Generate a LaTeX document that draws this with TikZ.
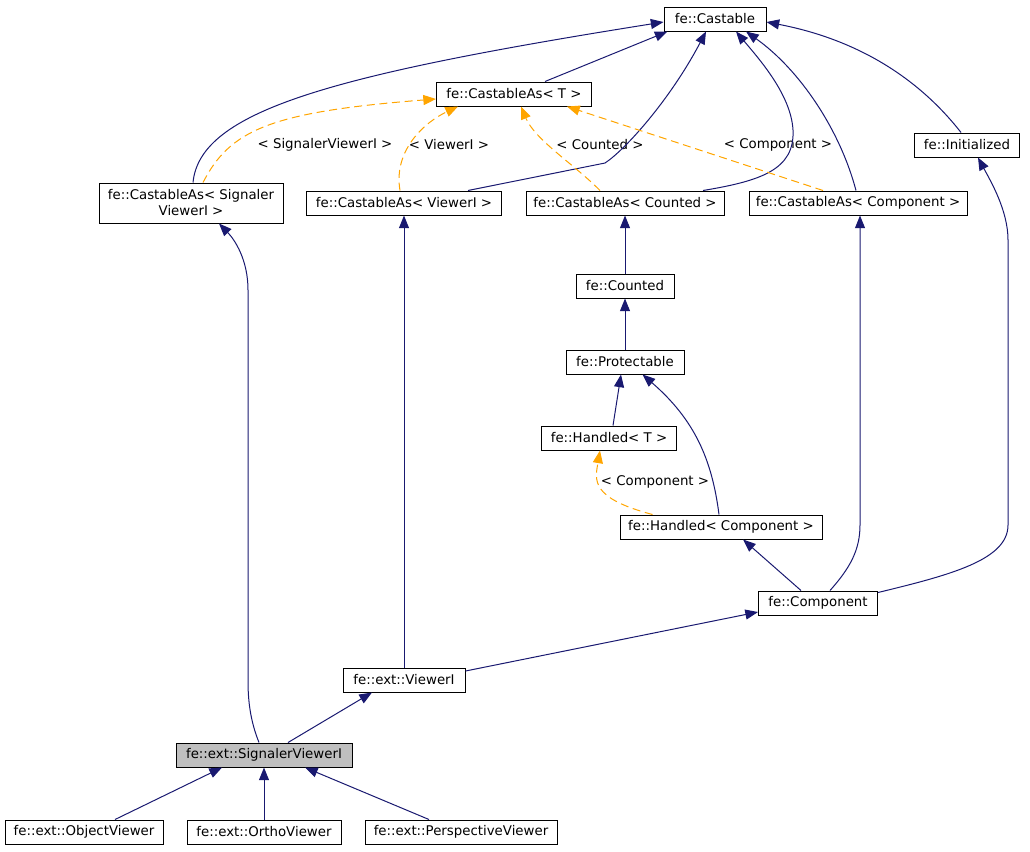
\documentclass[tikz,border=0pt]{standalone}
\usepackage{fontspec}
\setmainfont{DejaVu Sans}
\usepackage{tikz}
\usetikzlibrary{arrows.meta,positioning,calc}
\definecolor{edgeblue}{HTML}{191970}
\definecolor{tmplorange}{HTML}{FFA500}
\begin{document}
\begin{tikzpicture}[x=0.75pt,y=-0.75pt,
	cls/.style={draw=black,fill=white,line width=0.75pt,inner sep=0pt,minimum height=18pt,minimum width=#1*0.75pt,font=\fontsize{10}{12}\selectfont},
	inh/.style={draw=edgeblue,line width=0.75pt,-{Triangle[length=9.5pt,width=7.5pt]}},
	tmpl/.style={draw=tmplorange,line width=0.75pt,dash pattern=on 6pt off 3.5pt,-{Triangle[length=9.5pt,width=7.5pt]}},
	lbl/.style={inner sep=0pt,font=\fontsize{10}{12}\selectfont}]
	\useasboundingbox (0,0) rectangle (1030,851);
	% classes
	\node[cls=102] (castable) at (715,19) {fe::Castable};
	\node[cls=155] (castT) at (514,94) {fe::CastableAs< T >};
	\node[cls=105] (init) at (967,145) {fe::Initialized};
	\node[cls=184,minimum height=30pt,align=center] (castSV) at (191,203) {fe::CastableAs< Signaler\\ViewerI >};
	\node[cls=195] (castV) at (404,203) {fe::CastableAs< ViewerI >};
	\node[cls=198] (castCnt) at (625,203) {fe::CastableAs< Counted >};
	\node[cls=218] (castComp) at (858,203) {fe::CastableAs< Component >};
	\node[cls=98] (counted) at (625,286) {fe::Counted};
	\node[cls=118] (prot) at (625,362) {fe::Protectable};
	\node[cls=135] (handT) at (609,438) {fe::Handled< T >};
	\node[cls=202] (handC) at (721,527) {fe::Handled< Component >};
	\node[cls=119] (comp) at (818,603) {fe::Component};
	\node[cls=122] (viewer) at (404,680) {fe::ext::ViewerI};
	\node[cls=176,fill=black!25] (sviewer) at (264,755) {fe::ext::SignalerViewerI};
	\node[cls=158] (objv) at (84,832) {fe::ext::ObjectViewer};
	\node[cls=154] (orthov) at (264,832) {fe::ext::OrthoViewer};
	\node[cls=192] (perspv) at (461,832) {fe::ext::PerspectiveViewer};
	% template labels
	\node[lbl] (lSV) at (325,145) {< SignalerViewerI >};
	\node[lbl] (lV) at (449,145) {< ViewerI >};
	\node[lbl] (lCnt) at (600,145) {< Counted >};
	\node[lbl] (lComp) at (778,145) {< Component >};
	\node[lbl] (lHand) at (655,482) {< Component >};
	% inheritance
	\draw[inh] ($(castSV.north)+(2,0)$) .. controls (200,111) and (330,75) .. ($(castable.west)+(0,3)$);
	\draw[inh] ($(castT.north)+(31,0)$) -- ($(castable.south west)+(4,0)$);
	\draw[inh] ($(castV.north)+(64,0)$) -- (605,163) .. controls (625,150) and (670,100) .. ($(castable.south)+(-9,0)$);
	\draw[inh] ($(castCnt.north)+(78,0)$) .. controls (760,181) and (795,170) .. (793,130) .. controls (791,95) and (760,60) .. ($(castable.south)+(21,0)$);
	\draw[inh] ($(castComp.north)+(-2,0)$) .. controls (840,130) and (800,70) .. ($(castable.south)+(31,0)$);
	\draw[inh] ($(init.north)+(-6,0)$) .. controls (920,80) and (860,40) .. ($(castable.east)+(0,3)$);
	\draw[inh] (viewer.north) -- (castV.south);
	\draw[inh] (counted.north) -- (castCnt.south);
	\draw[inh] (prot.north) -- (counted.south);
	\draw[inh] ($(handT.north)+(4,0)$) -- ($(prot.south)+(-4,0)$);
	\draw[inh] ($(handC.north)+(-2,0)$) .. controls (712,460) and (695,420) .. ($(prot.south east)+(-42,0)$);
	\draw[inh] ($(comp.north)+(-17,0)$) -- ($(handC.south)+(22,0)$);
	\draw[inh] ($(comp.north)+(12,0)$) .. controls (850,568) and (860,550) .. (860,525) -- ($(castComp.south)+(2,0)$);
	\draw[inh] ($(comp.north east)+(0,2)$) .. controls (950,575) and (1008,560) .. (1008,525) -- (1008,240) .. controls (1008,210) and (990,180) .. ($(init.south)+(11,0)$);
	\draw[inh] ($(viewer.east)+(0,-9)$) -- ($(comp.west)+(0,9)$);
	\draw[inh] ($(sviewer.north)+(24,0)$) -- ($(viewer.south)+(-32,0)$);
	\draw[inh] ($(sviewer.north)+(-5,0)$) .. controls (250,720) and (248,700) .. (248,680) -- (248,290) .. controls (248,260) and (235,240) .. ($(castSV.south)+(28,0)$);
	\draw[inh] ($(objv.north)+(31,0)$) -- ($(sviewer.south)+(-42,0)$);
	\draw[inh] (orthov.north) -- (sviewer.south);
	\draw[inh] ($(perspv.north)+(-32,0)$) -- ($(sviewer.south)+(41,0)$);
	% template instances
	\draw[tmpl] ($(castSV.north)+(12,0)$) .. controls (230,130) and (270,112) .. ($(castT.west)+(0,5)$);
	\draw[tmpl] ($(castV.north)+(-4,0)$) .. controls (393,150) and (425,122) .. ($(castT.south west)+(22,0)$);
	\draw[tmpl] ($(castCnt.north)+(-25,0)$) .. controls (575,165) and (535,140) .. ($(castT.south)+(7,0)$);
	\draw[tmpl] ($(castComp.north)+(-35,0)$) -- ($(castT.south east)+(-25,0)$);
	\draw[tmpl] ($(handC.north west)+(33,0)$) .. controls (590,498) and (595,480) .. ($(handT.south)+(-9,0)$);
\end{tikzpicture}
\end{document}
